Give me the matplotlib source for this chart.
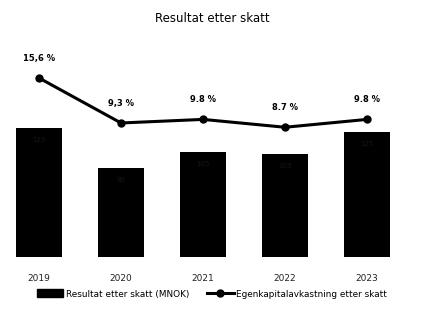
import matplotlib
matplotlib.use("Agg")
import matplotlib.pyplot as plt
from matplotlib.lines import Line2D
from matplotlib.patches import Patch

# ── Data ───────────────────────────────────────────────────────────────────────
years      = ["2019", "2020", "2021", "2022", "2023"]
resultat   = [129, 89, 105, 103, 125]          # MNOK (estimated, labels illegible)
ek_avk     = [15.6, 9.3, 9.8, 8.7, 9.8]        # %
ek_labels  = ["15,6 %", "9,3 %", "9.8 %", "8.7 %", "9.8 %"]

plt.rcParams["font.family"] = ["DejaVu Sans"]

fig = plt.figure(figsize=(4.24, 3.11), dpi=100)
ax = fig.add_axes([0.0, 1 - 257 / 311, 1.0, 197 / 311])
x = range(len(years))

bars = ax.bar(x, resultat, width=0.57, color="#000000", zorder=2)
for b, v in zip(bars, resultat):
    ax.text(b.get_x() + b.get_width() / 2, v - 12, f"{v}",
            ha="center", va="center", fontsize=5, color="#161616")

ax.set_xlim(-0.476, 4.695)
ax.set_ylim(0, 197)
ax.set_yticks([])
for s in ax.spines.values():
    s.set_visible(False)
ax.set_xticks(list(x))
ax.set_xticklabels(years, fontsize=6.5, color="#222222")
ax.tick_params(axis="x", length=0, pad=12)

ax2 = ax.twinx()
ax2.plot(list(x), ek_avk, color="#000000", linewidth=2.2, marker="o",
         markersize=5, zorder=3)
ax2.set_ylim(-9.47, 18.12)
ax2.set_yticks([])
for s in ax2.spines.values():
    s.set_visible(False)
for xi, v, lab in zip(x, ek_avk, ek_labels):
    ax2.annotate(lab, (xi, v), xytext=(0, 11), textcoords="offset points",
                 ha="center", va="bottom", fontsize=6, fontweight="bold")

fig.text(0.5, 1 - 18 / 311, "Resultat etter skatt", ha="center", va="center",
         fontsize=8.5)

handles = [
    Patch(facecolor="#000000", edgecolor="#000000"),
    Line2D([0], [0], color="#000000", linewidth=2.2, marker="o", markersize=5),
]
fig.legend(handles, ["Resultat etter skatt (MNOK)",
                     "Egenkapitalavkastning etter skatt"],
           loc="center", bbox_to_anchor=(0.5, 1 - 294 / 311), ncol=2,
           frameon=False, fontsize=6.4, handlelength=3.0, handleheight=1.0,
           handletextpad=0.3, columnspacing=2.0)

fig.savefig("out.png", dpi=100)
